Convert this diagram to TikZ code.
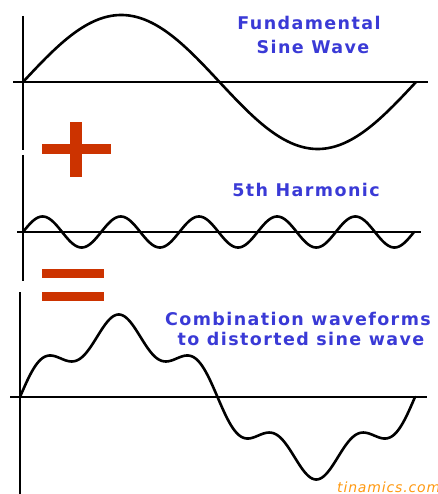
\documentclass[tikz,border=0pt]{standalone}
\usepackage{fontspec}
\usetikzlibrary{positioning}
\newfontfamily\lblfont[LetterSpace=8]{DejaVu Sans Bold}
\newfontfamily\markfont[LetterSpace=6]{DejaVu Sans Oblique}
\definecolor{clLabel} {RGB}{ 58, 58,214}
\definecolor{clSign}  {RGB}{204, 51,  0}
\definecolor{clMark}  {RGB}{255,153, 17}
\definecolor{clWave}  {RGB}{  0,  0,  0}
\tikzset{
  axis/.style={
    line width=2.6pt, color=clWave
  },
  wave/.style={
    line width=2.6pt, color=clWave, line join=round, line cap=round
  },
  lbl/.style={
    font=\fontsize{17.5}{20}\lblfont, text=clLabel,
    inner sep=0pt, anchor=base
  },
  sign/.style={
    fill=clSign
  },
  sitemark/.style={
    font=\fontsize{14}{16}\markfont, text=clMark,
    inner sep=0pt, anchor=base west
  }
}
\begin{document}
\begin{tikzpicture}[x=1pt, y=-1pt]
    \useasboundingbox (0,0) rectangle (437,494);
    \clip (0,0) rectangle (437,494);

    % ============================================================
    % AXES
    % ============================================================
    \coordinate (axA-l) at (13,82);   \coordinate (axA-r) at (428,82);
    \coordinate (axA-t) at (23,16);   \coordinate (axA-b) at (23,150);
    \coordinate (axB-l) at (17,232);  \coordinate (axB-r) at (421,232);
    \coordinate (axB-t) at (23,155);  \coordinate (axB-b) at (23,281);
    \coordinate (axC-l) at (10,397);  \coordinate (axC-r) at (427,397);
    \coordinate (axC-t) at (20,292);  \coordinate (axC-b) at (20,494);

    \draw [axis] (axA-l) -- (axA-r);
    \draw [axis] (axA-t) -- (axA-b);
    \draw [axis] (axB-l) -- (axB-r);
    \draw [axis] (axB-t) -- (axB-b);
    \draw [axis] (axC-l) -- (axC-r);
    \draw [axis] (axC-t) -- (axC-b);

    % ============================================================
    % WAVES
    % ============================================================
    % Fundamental
    \draw [wave] plot[domain=0:360, samples=181]
      ({23+\x/360*393}, {82-67*sin(\x)});
    % 5th harmonic
    \draw [wave] plot[domain=0:360, samples=361]
      ({23+\x/360*391}, {232-15.5*sin(5*\x)});
    % Sum of both
    \draw [wave] plot[domain=0:360, samples=361]
      ({20+\x/360*395}, {397-66.5*sin(\x)-16*sin(5*\x)});

    % ============================================================
    % SIGNS
    % ============================================================
    \fill [sign] (42,144) rectangle (111,154);
    \fill [sign] (70,122) rectangle (82,177);
    \fill [sign] (42,269) rectangle (104,278);
    \fill [sign] (42,292) rectangle (104,301);

    % ============================================================
    % LABELS
    % ============================================================
    \node (fundA) [lbl] at (309,29.5) {Fundamental};
    \node (fundB) [lbl] at (313,53.5) {Sine Wave};
    \node (harm)  [lbl] at (306,196) {5th Harmonic};
    \node (combA) [lbl] at (298,325) {Combination waveforms};
    \node (combB) [lbl] at (301,345.5) {to distorted sine wave};
    \node (site)  [sitemark] at (337,492) {tinamics.com};

\end{tikzpicture}
\end{document}
